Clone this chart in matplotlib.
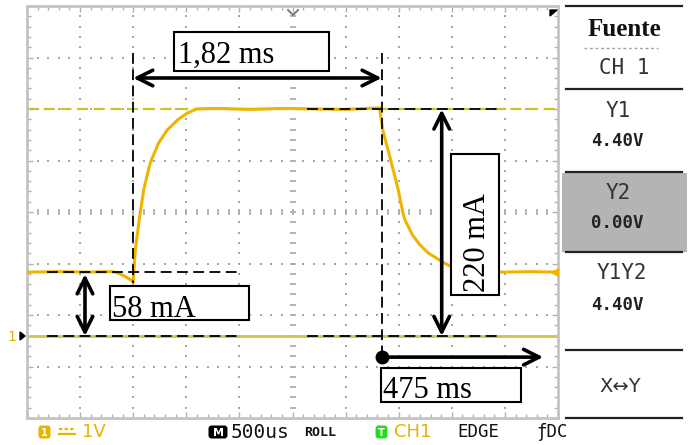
import matplotlib
matplotlib.use('Agg')
import matplotlib.pyplot as plt
import numpy as np
from matplotlib.patches import Rectangle, FancyBboxPatch, Polygon
from matplotlib.ticker import FixedLocator

# ---------------- data ----------------
time_ms = [0.00, 0.30, 0.55, 0.80, 0.86, 0.92, 0.97, 1.00, 1.02, 1.06, 1.10,
           1.16, 1.24, 1.32, 1.42, 1.51, 1.60, 1.80, 2.10, 2.40, 2.70, 3.00,
           3.20, 3.32, 3.35, 3.40, 3.49, 3.54, 3.56, 3.63, 3.70, 3.78, 3.91,
           4.00, 4.22, 4.45, 4.75, 4.98]
volts = [1.24, 1.25, 1.24, 1.25, 1.22, 1.16, 1.10, 1.05, 1.67, 2.31, 2.85,
         3.36, 3.75, 4.00, 4.20, 4.33, 4.41, 4.42, 4.40, 4.42, 4.41, 4.40,
         4.42, 4.43, 4.00, 3.61, 2.89, 2.39, 2.25, 1.96, 1.77, 1.61, 1.44,
         1.34, 1.26, 1.24, 1.25, 1.24]

cursor_y1 = 4.40      # V
cursor_y2 = 0.00      # V
level_low = 1.24      # V
t_rise = 1.00         # ms
t_fall = 3.34         # ms
labels = ["1,82 ms", "58 mA", "220 mA", "475 ms"]
panel_labels = ["Fuente", "CH 1", "Y1", "4.40V", "Y2", "0.00V", "Y1Y2", "4.40V", "X\u2194Y"]

# ---------------- figure ----------------
W, H = 690, 445
fig = plt.figure(figsize=(W / 100, H / 100), dpi=100)
fig.patch.set_facecolor('white')

ymin, ymax = -1.592, 6.408
ax = fig.add_axes([27 / W, 27 / H, 531 / W, 412 / H])
ax.set_xlim(0, 5)
ax.set_ylim(ymin, ymax)
for s in ax.spines.values():
    s.set_color('#c4c4c4')
    s.set_linewidth(2)
ax.xaxis.set_major_locator(FixedLocator(np.arange(0, 5.01, 0.5)))
ax.xaxis.set_minor_locator(FixedLocator(np.arange(0, 5.01, 0.1)))
ax.yaxis.set_major_locator(FixedLocator(ymin + np.arange(0, 8.01, 1.0)))
ax.yaxis.set_minor_locator(FixedLocator(ymin + np.arange(0, 8.01, 0.2)))
ax.tick_params(which='both', direction='in', top=True, right=True,
               labelbottom=False, labelleft=False, color='#b0b0b0', width=1)
ax.tick_params(which='major', length=4)
ax.tick_params(which='minor', length=3)

gc = '#a8a8a8'
# dotted grid
for k in range(1, 10):
    if k == 5:
        continue
    yy = ymin + np.arange(1, 40) * 0.2
    ax.scatter(np.full_like(yy, k * 0.5), yy, s=1.6, marker='s', color=gc, lw=0, zorder=1)
for k in range(1, 8):
    if k == 4:
        continue
    xx = np.arange(1, 50) * 0.1
    ax.scatter(xx, np.full_like(xx, ymin + k), s=1.6, marker='s', color=gc, lw=0, zorder=1)
# centre graticule with ticks
yy = ymin + np.arange(1, 40) * 0.2
ax.plot(np.full_like(yy, 2.5), yy, ls='none', marker='_', ms=5, mew=1.2, color=gc, zorder=1)
xx = np.arange(1, 50) * 0.1
ax.plot(xx, np.full_like(xx, ymin + 4), ls='none', marker='|', ms=5, mew=1.2, color=gc, zorder=1)

# cursors
ax.axhline(cursor_y1, color='#c8c626', lw=1.6, ls=(0, (5, 2.5)), zorder=2)
ax.axhline(cursor_y2, color='#cdc24a', lw=2.0, zorder=2)

# trace
ax.plot(time_ms, volts, color='#f0b400', lw=2.2, zorder=3, solid_joinstyle='miter')
ax.plot([4.97], [level_low], marker='<', ms=6, color='#f0b400', zorder=3)

# annotations
kd = dict(color='black', lw=1.3, ls=(0, (6, 3)), zorder=4)
ax.plot([t_rise, t_rise], [5.50, 1.03], **kd)
ax.plot([t_fall, t_fall], [5.50, -0.41], **kd)
ax.plot([2.64, 4.435], [cursor_y1, cursor_y1], **kd)
ax.plot([0.19, 1.99], [level_low, level_low], **kd)
ax.plot([0.19, 1.99], [cursor_y2, cursor_y2], **kd)
ax.plot([2.64, 4.435], [cursor_y2, cursor_y2], **kd)

ap = dict(arrowstyle='<->', lw=2.6, color='black', shrinkA=0, shrinkB=0, mutation_scale=28)
ax.annotate('', xy=(t_fall, 5.01), xytext=(t_rise, 5.01), arrowprops=ap, zorder=5)
ax.annotate('', xy=(3.905, cursor_y1), xytext=(3.905, cursor_y2), arrowprops=ap, zorder=5)
ax.annotate('', xy=(0.546, 1.20), xytext=(0.546, cursor_y2), arrowprops=ap, zorder=5)
ap2 = dict(ap, arrowstyle='->')
ax.annotate('', xy=(4.86, -0.41), xytext=(t_fall, -0.41), arrowprops=ap2, zorder=5)
ax.plot([t_fall], [-0.41], marker='o', ms=9, color='black', zorder=6)

serif = 'Liberation Serif'
boxes = [((1.384, 5.15), 1.46, 0.75, (1.42, 5.30), labels[0], 0),
         ((0.78, 0.31), 1.31, 0.66, (0.80, 0.37), labels[1], 0),
         ((3.99, 0.80), 0.45, 2.73, (4.313, 0.85), labels[2], 90),
         ((3.33, -1.28), 1.32, 0.66, (3.35, -1.20), labels[3], 0)]
for (x0, y0), w, h, (tx, ty), lab, rot in boxes:
    ax.add_patch(Rectangle((x0, y0), w, h, facecolor='white', edgecolor='black',
                           lw=1.5, zorder=7))
    ax.text(tx, ty, lab, fontfamily=serif, fontsize=22, rotation=rot,
            rotation_mode='anchor', ha='left', va='baseline', zorder=8)

# ---------------- overlay in pixel units (panel, status bar) ----------------
ov = fig.add_axes([0, 0, 1, 1])
ov.set_xlim(0, W)
ov.set_ylim(H, 0)
ov.axis('off')
ov.patch.set_alpha(0)

ov.add_patch(Rectangle((562, 173), 125, 79, facecolor='#b4b4b4', edgecolor='none'))
for yl in [6, 89, 172, 252, 350, 418]:
    ov.plot([566, 682], [yl, yl], color='#222222', lw=1.6)
ov.plot([584, 658], [48, 48], color='#a0a0a0', lw=1, ls=(0, (2, 2)))

mono = 'DejaVu Sans Mono'
ov.text(624, 29, panel_labels[0], fontfamily=serif, fontweight='bold', fontsize=18,
        ha='center', va='center', color='#111111')
ov.text(624, 68, panel_labels[1], fontfamily=mono, fontsize=15, ha='center', va='center', color='#333333')
ov.text(618, 111, panel_labels[2], fontfamily=mono, fontsize=15, ha='center', va='center', color='#333333')
ov.text(617, 141, panel_labels[3], fontfamily=mono, fontsize=12.5, fontweight='bold', ha='center', va='center', color='#222222')
ov.text(618, 193, panel_labels[4], fontfamily=mono, fontsize=15, ha='center', va='center', color='#333333')
ov.text(617, 223, panel_labels[5], fontfamily=mono, fontsize=12.5, fontweight='bold', ha='center', va='center', color='#222222')
ov.text(622, 273, panel_labels[6], fontfamily=mono, fontsize=15, ha='center', va='center', color='#333333')
ov.text(617, 305, panel_labels[7], fontfamily=mono, fontsize=12.5, fontweight='bold', ha='center', va='center', color='#222222')
ov.text(620, 386, panel_labels[8], fontfamily='DejaVu Sans', fontsize=14, ha='center', va='center', color='#333333')

# top markers
ov.plot([288, 293, 298], [10, 15, 10], color='#777777', lw=1.4)
ov.add_patch(Polygon([[550, 10], [557, 10], [550, 16]], closed=True, color='black'))

# ground marker on the left
ov.text(12, 337, '1', fontfamily='DejaVu Sans', fontsize=10, color='#e8b000', ha='center', va='center')
ov.add_patch(Polygon([[20, 332], [25, 336], [20, 340]], closed=True, color='black'))

# status bar
orange = '#e8b400'
ov.add_patch(FancyBboxPatch((39, 426), 11, 12, boxstyle='round,pad=0.5,rounding_size=3',
                            facecolor=orange, edgecolor='none'))
ov.text(44.5, 432.5, '1', fontfamily='DejaVu Sans', fontsize=7, fontweight='bold',
        color='white', ha='center', va='center')
ov.plot([59, 75], [429, 429], color=orange, lw=1.6, ls=(0, (1.5, 1)))
ov.plot([59, 75], [434, 434], color=orange, lw=1.6)
ov.text(82, 432, '1V', fontfamily='DejaVu Sans', fontsize=13, color=orange, ha='left', va='center')

ov.add_patch(FancyBboxPatch((209, 426), 18, 12, boxstyle='round,pad=0.5,rounding_size=3',
                            facecolor='black', edgecolor='none'))
ov.text(218, 432.5, 'M', fontfamily='DejaVu Sans', fontsize=8, fontweight='bold',
        color='white', ha='center', va='center')
ov.text(231, 432, '500us', fontfamily=mono, fontsize=14, color='#111111', ha='left', va='center')
ov.text(304, 433, 'ROLL', fontfamily=mono, fontsize=9.5, fontweight='bold', color='#111111', ha='left', va='center')

ov.add_patch(FancyBboxPatch((376, 426), 11, 12, boxstyle='round,pad=0.5,rounding_size=3',
                            facecolor='#22dd22', edgecolor='none'))
ov.text(381.5, 432.5, 'T', fontfamily='DejaVu Sans', fontsize=7, fontweight='bold',
        color='white', ha='center', va='center')
ov.text(394, 432, 'CH1', fontfamily='DejaVu Sans', fontsize=13, color=orange, ha='left', va='center')
ov.text(457, 432, 'EDGE', fontfamily=mono, fontsize=12.5, color='#111111', ha='left', va='center')
ov.text(536, 432, '\u0192DC', fontfamily=mono, fontsize=12.5, color='#111111', ha='left', va='center')

fig.savefig('out.png', dpi=100)
